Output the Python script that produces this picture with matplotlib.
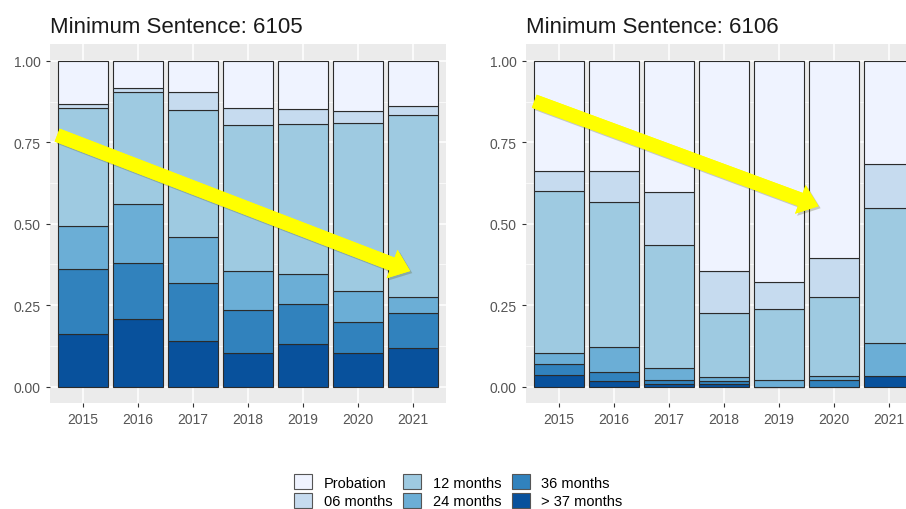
import numpy as np
import matplotlib
matplotlib.use("Agg")
import matplotlib.pyplot as plt
import matplotlib.patheffects as pe
from matplotlib.patches import Patch

plt.rcParams['font.family'] = ['Liberation Sans', 'DejaVu Sans']

years = ['2015', '2016', '2017', '2018', '2019', '2020', '2021']
categories = ['Probation', '06 months', '12 months', '24 months', '36 months', '> 37 months']
colors = ['#EFF3FF', '#C6DBEF', '#9ECAE1', '#6BAED6', '#3182BD', '#08519C']

# share of each sentence per year (same order as categories)
probation_6105 = [0.133, 0.085, 0.097, 0.145, 0.148, 0.153, 0.138]
m06_6105 = [0.013, 0.012, 0.054, 0.052, 0.046, 0.038, 0.029]
m12_6105 = [0.362, 0.341, 0.391, 0.447, 0.459, 0.515, 0.557]
m24_6105 = [0.131, 0.181, 0.139, 0.121, 0.093, 0.095, 0.050]
m36_6105 = [0.200, 0.173, 0.178, 0.130, 0.123, 0.094, 0.107]
m37_6105 = [0.161, 0.208, 0.141, 0.105, 0.131, 0.105, 0.119]

probation_6106 = [0.339, 0.339, 0.402, 0.645, 0.679, 0.604, 0.318]
m06_6106 = [0.059, 0.095, 0.163, 0.129, 0.084, 0.120, 0.135]
m12_6106 = [0.497, 0.443, 0.379, 0.197, 0.216, 0.244, 0.414]
m24_6106 = [0.035, 0.077, 0.036, 0.011, 0.021, 0.010, 0.099]
m36_6106 = [0.034, 0.028, 0.012, 0.010, 0.000, 0.022, 0.000]
m37_6106 = [0.036, 0.018, 0.008, 0.008, 0.000, 0.000, 0.034]

data_6105 = [probation_6105, m06_6105, m12_6105, m24_6105, m36_6105, m37_6105]
data_6106 = [probation_6106, m06_6106, m12_6106, m24_6106, m36_6106, m37_6106]


def stacked_panel(ax, title, data):
    """ggplot-like stacked proportion bars"""
    ax.set_facecolor('#EBEBEB')
    x = np.arange(len(years))
    # grid (ggplot theme_grey)
    for v in [0.125, 0.375, 0.625, 0.875]:
        ax.axhline(v, color='white', lw=0.5, zorder=0)
    for v in [0, 0.25, 0.5, 0.75, 1.0]:
        ax.axhline(v, color='white', lw=1.1, zorder=0)
    for v in x:
        ax.axvline(v, color='white', lw=1.1, zorder=0)

    bottom = np.zeros(len(years))
    # probation on top -> draw from the last category upwards
    for vals, col in zip(data[::-1], colors[::-1]):
        vals = np.array(vals)
        ax.bar(x, vals, 0.9, bottom=bottom, color=col,
               edgecolor='#2b2b2b', linewidth=0.8, zorder=2)
        bottom += vals

    ax.set_xlim(-0.6, len(years) - 0.4)
    ax.set_ylim(-0.05, 1.05)
    ax.set_xticks(x)
    ax.set_xticklabels(years)
    ax.set_yticks([0, 0.25, 0.5, 0.75, 1.0])
    ax.set_yticklabels(['0.00', '0.25', '0.50', '0.75', '1.00'])
    ax.tick_params(colors='#333333', labelcolor='#555555', labelsize=10,
                   length=3, width=0.8)
    for s in ax.spines.values():
        s.set_visible(False)
    ax.set_title(title, loc='left', fontsize=16, color='#1a1a1a', pad=9)


def yellow_arrow(ax, start, end):
    ax.annotate('', xy=end, xytext=start, xycoords='data',
                annotation_clip=False,
                arrowprops=dict(arrowstyle='simple,tail_width=1.0,head_width=2.2,head_length=1.4',
                                mutation_scale=10, facecolor='#FFFF00',
                                edgecolor='none', shrinkA=0, shrinkB=0,
                                path_effects=[pe.withSimplePatchShadow(offset=(1.5, -1.5), alpha=0.25),
                                              pe.Normal()]),
                zorder=5)


fig = plt.figure(figsize=(9.06, 5.10), dpi=100)
ax1 = fig.add_axes([0.0552, 0.2078, 0.437, 0.703])
ax2 = fig.add_axes([0.5806, 0.2078, 0.437, 0.703])

stacked_panel(ax1, 'Minimum Sentence: 6105', data_6105)
stacked_panel(ax2, 'Minimum Sentence: 6106', data_6106)

yellow_arrow(ax1, (-0.47, 0.772), (5.95, 0.355))
yellow_arrow(ax2, (-0.45, 0.876), (4.72, 0.554))

handles = [Patch(facecolor=c, edgecolor='#555555', linewidth=0.8) for c in colors]
leg = fig.legend(handles, categories, loc='lower center', bbox_to_anchor=(0.506, -0.024),
                 ncol=3, frameon=False, fontsize=10.5, handlelength=1.25, handleheight=1.2,
                 handletextpad=0.8, columnspacing=0.7, labelspacing=0.2,
                 alignment='left')
for t in leg.get_texts():
    t.set_ha('left')

fig.savefig('out.png', dpi=100)
